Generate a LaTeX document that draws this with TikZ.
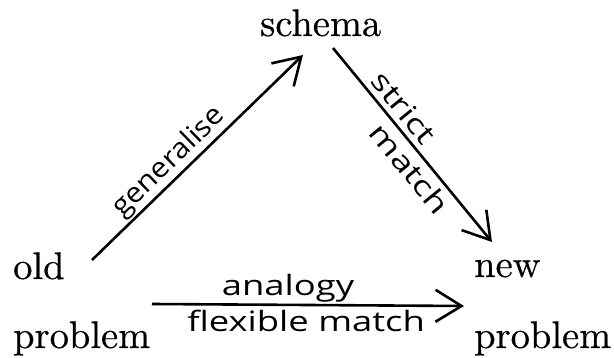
\documentclass[tikz,border=0pt]{standalone}
\usepackage{fontspec}
\newfontfamily\hand[FakeStretch=1.3]{Open Sans}
\newfontfamily\handnarrow[FakeStretch=1.08]{Open Sans}
\newfontfamily\serifw[FakeBold=0.5]{lmroman10-regular.otf}
\usetikzlibrary{arrows.meta}
\begin{document}
\begin{tikzpicture}[x=1pt,y=-1pt,
  word/.style={font=\serifw\fontsize{38.5}{46}\selectfont, inner sep=0pt},
  hw/.style={font=\hand\fontsize{28}{32}\selectfont, inner sep=0pt},
  hwnarrow/.style={font=\handnarrow\fontsize{28}{32}\selectfont, inner sep=0pt},
  link/.style={line width=2.6pt, -{Straight Barb[length=26pt,width=32pt,line width=2.6pt]}}]
\useasboundingbox (0,0) rectangle (614,358);
\node[word,anchor=base west] (schema) at (260,36) {schema};
\node[word,anchor=base west] (old) at (13,279) {old};
\node[word,anchor=base west] (oldp) at (13,348) {problem};
\node[word,anchor=base west] (new) at (474,277) {new};
\node[word,anchor=base west] (newp) at (474,348) {problem};
\coordinate (g1) at (92,260);
\coordinate (g2) at (303,55);
\coordinate (s1) at (333,48);
\coordinate (s2) at (492,242);
\coordinate (a1) at (152,304);
\coordinate (a2) at (464,306);
\draw[link] (g1) -- node[hwnarrow,sloped,pos=0.42,above=1pt] {generalise} (g2);
\draw[link] (s1) -- node[hw,sloped,pos=0.363,above=5pt] {strict}
                    node[hw,sloped,pos=0.565,below=5pt] {match} (s2);
\draw[link] (a1) -- node[hw,pos=0.436,above=1.5pt] {analogy}
                    node[hw,pos=0.494,below=4pt] {flexible match} (a2);
\end{tikzpicture}
\end{document}
